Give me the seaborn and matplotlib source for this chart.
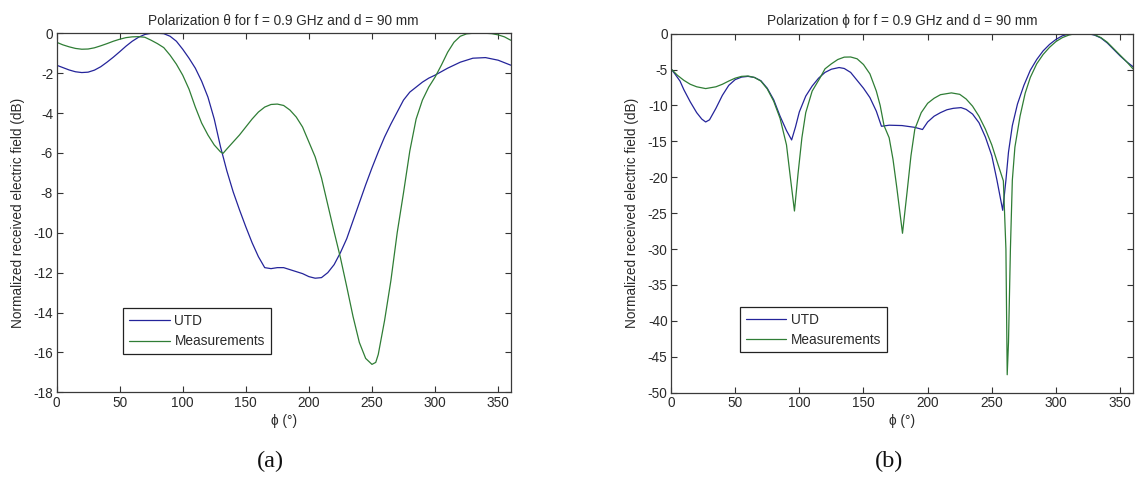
import matplotlib
matplotlib.use("Agg")
import matplotlib.pyplot as plt
import numpy as np
import pandas as pd
import seaborn as sns

# ---------------- data: panel (a), theta polarization ----------------
utd_a_phi = [0, 5, 10, 15, 20, 25, 30, 35, 40, 45, 50, 55, 60, 65, 70, 75, 80, 85, 90, 95,
             100, 105, 110, 115, 120, 125, 130, 135, 140, 145, 150, 155, 160, 165, 170, 175,
             180, 185, 190, 195, 200, 205, 210, 215, 220, 225, 230, 235, 240, 245, 250, 255,
             260, 265, 270, 275, 280, 285, 290, 295, 300, 310, 320, 330, 340, 350, 360]
utd_a_val = [-1.6, -1.72, -1.84, -1.93, -1.97, -1.95, -1.85, -1.68, -1.45, -1.2, -0.93, -0.65,
             -0.4, -0.2, -0.06, 0.0, 0.0, -0.02, -0.15, -0.4, -0.8, -1.25, -1.75, -2.4, -3.2,
             -4.3, -5.7, -6.9, -7.95, -8.85, -9.7, -10.5, -11.2, -11.75, -11.8, -11.75, -11.75,
             -11.85, -11.95, -12.05, -12.2, -12.28, -12.25, -12.0, -11.6, -11.0, -10.3, -9.4,
             -8.5, -7.6, -6.75, -5.95, -5.2, -4.55, -3.95, -3.35, -2.95, -2.7, -2.45, -2.25,
             -2.1, -1.75, -1.45, -1.25, -1.22, -1.35, -1.6]

meas_a_phi = [0, 5, 10, 15, 20, 25, 30, 35, 40, 45, 50, 55, 60, 65, 70, 75, 80, 85, 90, 95,
              100, 105, 110, 115, 120, 125, 130, 132, 135, 140, 145, 150, 155, 160, 165, 170,
              175, 180, 185, 190, 195, 200, 205, 210, 215, 220, 225, 230, 235, 240, 245, 250,
              253, 255, 260, 265, 270, 275, 280, 285, 290, 295, 300, 305, 310, 315, 320, 325,
              330, 340, 345, 350, 355, 360]
meas_a_val = [-0.45, -0.58, -0.68, -0.76, -0.8, -0.79, -0.73, -0.63, -0.52, -0.4, -0.3, -0.22,
              -0.18, -0.17, -0.2, -0.35, -0.52, -0.72, -1.1, -1.55, -2.1, -2.8, -3.7, -4.5,
              -5.1, -5.6, -5.95, -6.02, -5.8, -5.45, -5.1, -4.7, -4.3, -3.95, -3.7, -3.57,
              -3.55, -3.62, -3.85, -4.2, -4.7, -5.45, -6.2, -7.25, -8.6, -9.95, -11.25, -12.7,
              -14.2, -15.5, -16.3, -16.6, -16.5, -16.1, -14.4, -12.4, -10.0, -8.0, -5.9, -4.3,
              -3.35, -2.7, -2.2, -1.6, -0.95, -0.45, -0.15, -0.03, 0.0, 0.0, -0.02, -0.08,
              -0.18, -0.35]

# ---------------- data: panel (b), phi polarization ----------------
utd_b_phi = [0, 3, 7, 10, 15, 20, 24, 27, 30, 35, 40, 45, 50, 55, 60, 65, 70, 75, 80, 85, 90,
             94, 97, 100, 105, 110, 115, 120, 125, 131, 135, 140, 145, 150, 155, 160, 164, 170,
             180, 190, 196, 200, 205, 210, 215, 220, 226, 230, 235, 240, 245, 250, 254, 258.5,
             261, 263, 266, 270, 275, 280, 285, 290, 295, 300, 305, 310, 315, 325, 330, 335,
             340, 345, 350, 355, 360]
utd_b_val = [-4.9, -5.6, -6.6, -7.8, -9.5, -11.0, -11.9, -12.3, -12.0, -10.4, -8.6, -7.2, -6.4,
             -6.05, -5.95, -6.1, -6.55, -7.6, -9.2, -11.5, -13.5, -14.8, -13.0, -10.9, -8.7,
             -7.3, -6.2, -5.4, -4.95, -4.72, -4.85, -5.4, -6.5, -7.6, -8.9, -10.8, -12.9,
             -12.75, -12.8, -13.05, -13.35, -12.3, -11.5, -11.0, -10.6, -10.4, -10.3, -10.55,
             -11.2, -12.4, -14.4, -17.0, -20.4, -24.6, -20.4, -16.5, -12.8, -9.8, -7.2, -5.1,
             -3.6, -2.4, -1.5, -0.8, -0.3, -0.05, 0.0, 0.0, -0.2, -0.6, -1.3, -2.2, -3.1, -3.9,
             -4.6]

meas_b_phi = [0, 5, 10, 15, 20, 27, 35, 40, 45, 50, 55, 60, 65, 70, 75, 80, 85, 90, 93, 96.2,
              99, 102, 105, 110, 116, 120, 125, 130, 135, 140, 145, 150, 155, 160, 163, 166,
              170, 173, 176, 180.4, 184, 187, 190, 195, 200, 205, 210, 218.5, 225, 230, 235,
              240, 245, 250, 255, 259, 261, 262, 263, 264.5, 266, 268, 272, 276, 280, 285, 290,
              295, 300, 305, 310, 315, 325, 330, 335, 340, 345, 350, 355, 360]
meas_b_val = [-4.9, -5.8, -6.5, -7.05, -7.4, -7.65, -7.4, -7.05, -6.6, -6.2, -5.95, -5.9, -6.1,
              -6.6, -7.7, -9.4, -11.8, -15.5, -20.0, -24.7, -19.5, -14.5, -11.0, -8.0, -6.2,
              -4.9, -4.2, -3.6, -3.27, -3.25, -3.5, -4.3, -5.6, -8.0, -10.0, -12.8, -14.5,
              -17.5, -21.5, -27.8, -22.0, -17.0, -13.3, -11.0, -9.7, -9.0, -8.5, -8.25, -8.45,
              -9.1, -10.1, -11.5, -13.3, -15.5, -18.3, -20.5, -30.0, -47.5, -43.0, -30.0,
              -20.4, -15.8, -11.5, -8.3, -6.1, -4.2, -2.9, -1.9, -1.1, -0.55, -0.2, 0.0, 0.0,
              -0.15, -0.55, -1.2, -2.1, -3.0, -3.9, -4.9]

series_names = ["UTD", "Measurements"]
x_ticks = [0, 50, 100, 150, 200, 250, 300, 350]
y_ticks_a = [0, -2, -4, -6, -8, -10, -12, -14, -16, -18]
y_ticks_b = [0, -5, -10, -15, -20, -25, -30, -35, -40, -45, -50]
titles = ["Polarization \u03b8 for f = 0.9 GHz and d = 90 mm",
          "Polarization \u03d5 for f = 0.9 GHz and d = 90 mm"]
x_label = "\u03d5 (\u00b0)"
y_label = "Normalized received electric field (dB)"
panel_labels = ["(a)", "(b)"]

# ---------------- styling ----------------
sns.set_style("ticks")
plt.rcParams["font.family"] = ["Liberation Sans", "DejaVu Sans"]
text_color = "#2a2a2a"
plt.rcParams.update({
    "font.size": 9.8,
    "axes.unicode_minus": False,
    "text.color": text_color,
    "axes.labelcolor": text_color,
    "xtick.color": "#333333",
    "ytick.color": "#333333",
    "xtick.labelcolor": text_color,
    "ytick.labelcolor": text_color,
    "axes.edgecolor": "#3a3a3a",
    "axes.linewidth": 0.9,
})

palette = {"UTD": "#24249a", "Measurements": "#2f7d35"}
fs = 9.8

fig = plt.figure(figsize=(11.35, 4.8), dpi=100)
ax_a = fig.add_axes([0.0498, 0.1827, 0.4002, 0.748])
ax_b = fig.add_axes([0.5912, 0.1819, 0.4070, 0.748])


def make_df(p1, v1, p2, v2):
    d1 = pd.DataFrame({"phi": p1, "val": v1, "series": series_names[0]})
    d2 = pd.DataFrame({"phi": p2, "val": v2, "series": series_names[1]})
    return pd.concat([d1, d2], ignore_index=True)


panels = [
    (ax_a, make_df(utd_a_phi, utd_a_val, meas_a_phi, meas_a_val), y_ticks_a, (-18, 0),
     (0.1467, 0.1067), titles[0]),
    (ax_b, make_df(utd_b_phi, utd_b_val, meas_b_phi, meas_b_val), y_ticks_b, (-50, 0),
     (0.149, 0.112), titles[1]),
]

for ax, df, yt, ylim, leg_anchor, title in panels:
    sns.lineplot(data=df, x="phi", y="val", hue="series", hue_order=series_names,
                 palette=palette, estimator=None, sort=True, linewidth=0.9, ax=ax)
    ax.set_xlim(0, 360)
    ax.set_ylim(*ylim)
    ax.set_xticks(x_ticks)
    ax.set_yticks(yt)
    ax.tick_params(axis="both", which="both", direction="in", top=True, right=True,
                   length=4, width=0.8, pad=2.5, labelsize=fs)
    ax.set_xlabel(x_label, fontsize=fs, labelpad=3)
    ax.set_ylabel(y_label, fontsize=fs, labelpad=6)
    ax.set_title(title, fontsize=fs, pad=6, color=text_color)
    for sp in ax.spines.values():
        sp.set_visible(True)
        sp.set_color("#3a3a3a")
        sp.set_linewidth(0.9)
    handles, labels = ax.get_legend_handles_labels()
    leg = ax.legend(handles, labels, loc="lower left", bbox_to_anchor=leg_anchor,
                    borderaxespad=0, fancybox=False, framealpha=1, edgecolor="#222222",
                    fontsize=fs, handlelength=3.0, handletextpad=0.35, borderpad=0.42,
                    labelspacing=0.45)
    leg.get_frame().set_linewidth(0.9)

fig.text(0.238, 0.038, panel_labels[0], ha="center", va="center", fontsize=17.5,
         family="Liberation Serif", color="#111111")
fig.text(0.783, 0.038, panel_labels[1], ha="center", va="center", fontsize=17.5,
         family="Liberation Serif", color="#111111")

fig.savefig("out.png", dpi=100, facecolor="white")
